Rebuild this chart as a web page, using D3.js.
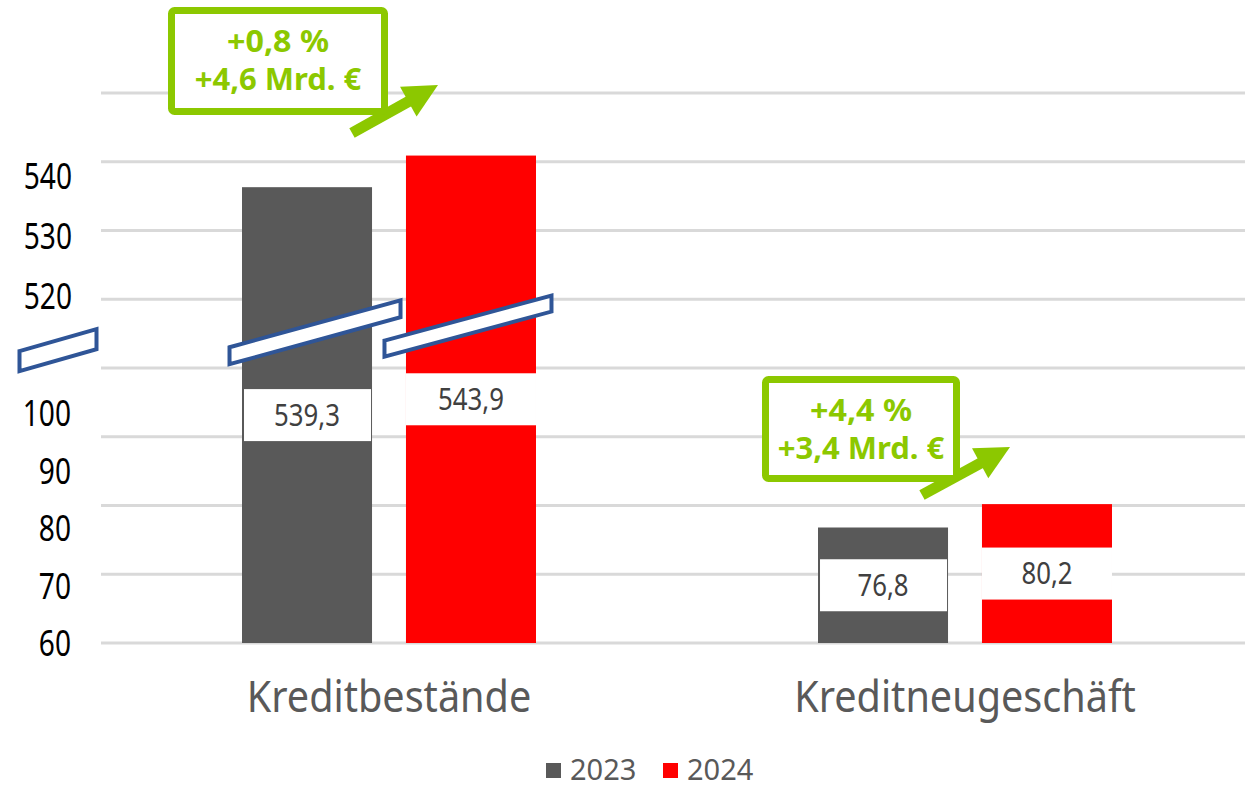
<!DOCTYPE html>
<html>
<head>
<meta charset="utf-8">
<script src="https://cdn.jsdelivr.net/npm/d3@7"></script>
<style>
	body { margin: 0; background: #fff; }
	svg { display: block; font-family: 'Noto Sans', 'Open Sans', sans-serif; }
</style>
</head>
<body>
<svg id="chart-svg" width="1245" height="788"></svg>
<script>
const categories = [ 'Kreditbestände', 'Kreditneugeschäft' ];
const years = [ '2023', '2024' ];
const values2023 = [ 539.3, 76.8 ];
const values2024 = [ 543.9, 80.2 ];
const lowerTicks = [ 60, 70, 80, 90, 100 ];
const upperTicks = [ 520, 530, 540 ];
const changePct = [ '+0,8 %', '+4,4 %' ];
const changeAbs = [ '+4,6 Mrd. €', '+3,4 Mrd. €' ];

const COLORS = { '2023': '#595959', '2024': '#ff0000' };
const GREEN = '#8cc800';
const BREAK_SHIFT = 413; // values above the axis break are drawn shifted down

const svg = d3.select('#chart-svg');
const width = 1245;

// the original font is a condensed one, so squeeze the glyphs horizontally
const squeeze = (x, yPos, sx) => 'translate(' + x + ',' + yPos + ') scale(' + sx + ',1)';

// piecewise: lower part is real, upper part shifted by the break
const axisValue = (v) => (v > 500 ? v - BREAK_SHIFT : v);

const y = d3.scaleLinear().domain([ 60, 140 ]).range([ 643, 93 ]);
const x0 = d3.scaleBand().domain(categories).range([ 101, 1253 ]);
const x1 = d3.scaleBand().domain(years).range([ 0, x0.bandwidth() ]).paddingInner(0.207).paddingOuter(0.86);

// gridlines
svg
	.append('g')
	.selectAll('line')
	.data(d3.range(60, 141, 10))
	.enter()
	.append('line')
	.attr('x1', 101)
	.attr('x2', width)
	.attr('y1', (d) => y(d))
	.attr('y2', (d) => y(d))
	.attr('stroke', '#d9d9d9')
	.attr('stroke-width', 3);

// tick labels (hand placed in the original, so a point scale per segment)
const lowerLabelY = d3.scalePoint().domain(lowerTicks).range([ 643, 413 ]);
const upperLabelY = d3.scalePoint().domain(upperTicks).range([ 296, 176 ]);
const tickG = svg.append('g').attr('font-size', 37).attr('fill', '#000').attr('text-anchor', 'end');
tickG
	.selectAll('text.low')
	.data(lowerTicks)
	.enter()
	.append('text')
	.attr('transform', (d) => squeeze(71, lowerLabelY(d), 0.76))
	.attr('dy', '0.36em')
	.text((d) => d);
tickG
	.selectAll('text.up')
	.data(upperTicks)
	.enter()
	.append('text')
	.attr('transform', (d) => squeeze(72, upperLabelY(d), 0.76))
	.attr('dy', '0.36em')
	.text((d) => d);

// bars
const rows = categories.map((c, i) => ({
	category: c,
	series: [
		{ year: '2023', value: values2023[i] },
		{ year: '2024', value: values2024[i] }
	]
}));

const groups = svg
	.append('g')
	.selectAll('g')
	.data(rows)
	.enter()
	.append('g')
	.attr('transform', (d) => 'translate(' + x0(d.category) + ',0)');

groups
	.selectAll('rect.bar')
	.data((d) => d.series)
	.enter()
	.append('rect')
	.attr('class', 'bar')
	.attr('x', (d) => x1(d.year))
	.attr('width', x1.bandwidth())
	.attr('y', (d) => y(axisValue(d.value)))
	.attr('height', (d) => y(60) - y(axisValue(d.value)))
	.attr('fill', (d) => COLORS[d.year]);

// value labels in white boxes at bar middle
const labelH = 52;
const midY = (d) => (y(axisValue(d.value)) + y(60)) / 2;
groups
	.selectAll('rect.lbl')
	.data((d) => d.series)
	.enter()
	.append('rect')
	.attr('x', (d) => x1(d.year) + (d.year == '2023' ? 2 : 0))
	.attr('width', (d) => x1.bandwidth() - (d.year == '2023' ? 3 : 0))
	.attr('y', (d) => midY(d) - labelH / 2)
	.attr('height', labelH)
	.attr('fill', '#fff');
groups
	.selectAll('text.lbl')
	.data((d) => d.series)
	.enter()
	.append('text')
	.attr('transform', (d) => squeeze(x1(d.year) + x1.bandwidth() / 2, midY(d), 0.86))
	.attr('dy', '0.36em')
	.attr('text-anchor', 'middle')
	.attr('font-size', 30)
	.attr('fill', '#404040')
	.text((d) => d3.format('.1f')(d.value).replace('.', ','));

// axis break marks
function breakMark(cx, cy, w, h, rise) {
	const xa = cx - w / 2;
	const xb = cx + w / 2;
	const pts = [
		[ xa, cy + rise / 2 - h / 2 ],
		[ xb, cy - rise / 2 - h / 2 ],
		[ xb, cy - rise / 2 + h / 2 ],
		[ xa, cy + rise / 2 + h / 2 ]
	];
	svg
		.append('polygon')
		.attr('points', pts.map((p) => p.join(',')).join(' '))
		.attr('fill', '#fff')
		.attr('stroke', '#2f5597')
		.attr('stroke-width', 4);
}
const firstCat = categories[0];
breakMark(58, y(102.6), 77, 20, 22);
breakMark(x0(firstCat) + x1('2023') + x1.bandwidth() / 2 + 8, y(105.2), 171, 17, 47);
breakMark(x0(firstCat) + x1('2024') + x1.bandwidth() / 2 - 3, y(106.1), 167, 16, 45);

// change annotations
const annoLayout = [
	{ x: 171.5, y: 10.5, w: 213, h: 101, tail: [ 352, 133 ], tip: [ 438, 85 ] },
	{ x: 765.5, y: 379.5, w: 191, h: 99, tail: [ 922, 495 ], tip: [ 1010, 447 ] }
];
annoLayout.forEach((a, i) => {
	const g = svg.append('g');
	// arrow
	const dx = a.tip[0] - a.tail[0];
	const dy = a.tip[1] - a.tail[1];
	const len = Math.sqrt(dx * dx + dy * dy);
	const ux = dx / len;
	const uy = dy / len;
	const headLen = 34;
	const headW = 17;
	const bx = a.tip[0] - ux * headLen;
	const by = a.tip[1] - uy * headLen;
	g
		.append('line')
		.attr('x1', a.tail[0])
		.attr('y1', a.tail[1])
		.attr('x2', bx + ux * 2)
		.attr('y2', by + uy * 2)
		.attr('stroke', GREEN)
		.attr('stroke-width', 11);
	g
		.append('polygon')
		.attr(
			'points',
			[ a.tip, [ bx - uy * headW, by + ux * headW ], [ bx + uy * headW, by - ux * headW ] ]
				.map((p) => p.join(','))
				.join(' ')
		)
		.attr('fill', GREEN);
	g
		.append('rect')
		.attr('x', a.x)
		.attr('y', a.y)
		.attr('width', a.w)
		.attr('height', a.h)
		.attr('rx', 3)
		.attr('fill', '#fff')
		.attr('stroke', GREEN)
		.attr('stroke-width', 7);
	const cx = a.x + a.w / 2;
	g
		.append('text')
		.attr('text-anchor', 'middle')
		.attr('font-size', 31)
		.attr('font-weight', 'bold')
		.attr('fill', GREEN)
		.attr('transform', squeeze(cx, a.y + 41, 1.04))
		.text(changePct[i]);
	g
		.append('text')
		.attr('text-anchor', 'middle')
		.attr('font-size', 31)
		.attr('font-weight', 'bold')
		.attr('fill', GREEN)
		.attr('transform', squeeze(cx, a.y + 79, 1))
		.text(changeAbs[i]);
});

// category labels
svg
	.append('g')
	.selectAll('text')
	.data(categories)
	.enter()
	.append('text')
	.attr('transform', (d) => squeeze(x0(d) + x0.bandwidth() / 2, 712, 0.9))
	.attr('text-anchor', 'middle')
	.attr('font-size', 44)
	.attr('fill', '#595959')
	.text((d) => d);

// legend
const legendG = svg.append('g').attr('transform', 'translate(546, 763)');
const legendItems = legendG
	.selectAll('g')
	.data(years)
	.enter()
	.append('g')
	.attr('transform', (d, i) => 'translate(' + i * 117 + ',0)');
legendItems.append('rect').attr('width', 15).attr('height', 15).attr('fill', (d) => COLORS[d]);
legendItems
	.append('text')
	.attr('x', 24)
	.attr('y', 17)
	.attr('font-size', 29)
	.attr('fill', '#595959')
	.text((d) => d);
</script>
</body>
</html>
